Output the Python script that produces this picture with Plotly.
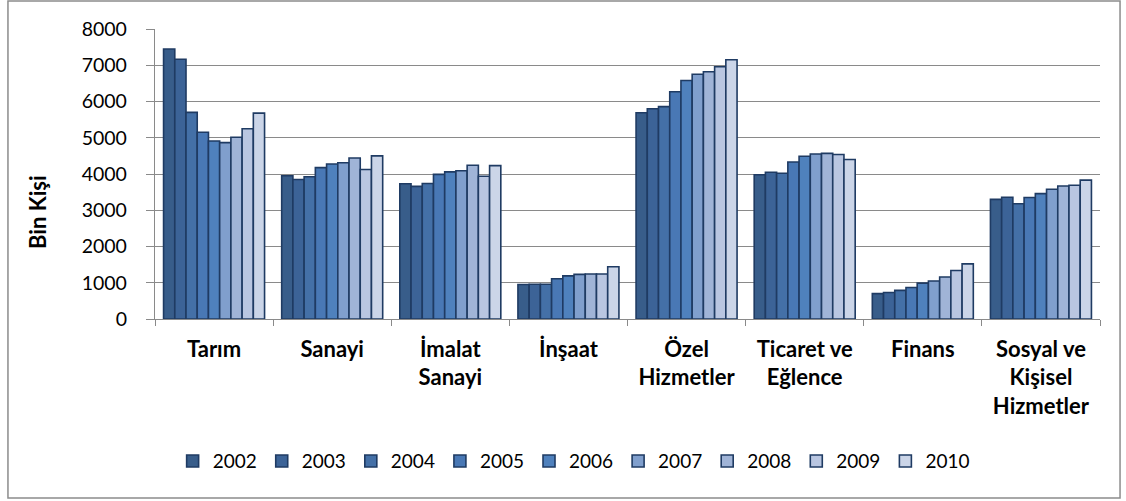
import plotly.graph_objects as go

categories = ["Tarım", "Sanayi", "İmalat<br>Sanayi", "İnşaat", "Özel<br>Hizmetler",
              "Ticaret ve<br>Eğlence", "Finans", "Sosyal ve<br>Kişisel<br>Hizmetler"]
years = ["2002", "2003", "2004", "2005", "2006", "2007", "2008", "2009", "2010"]

# values per category, one entry per year (2002..2010), in thousand persons
tarim   = [7450, 7165, 5700, 5150, 4910, 4865, 5015, 5250, 5680]
sanayi  = [3950, 3850, 3925, 4175, 4275, 4310, 4440, 4125, 4500]
imalat  = [3730, 3660, 3740, 3990, 4060, 4090, 4240, 3940, 4230]
insaat  = [950, 960, 960, 1110, 1190, 1230, 1240, 1240, 1440]
ozel    = [5690, 5800, 5860, 6270, 6580, 6750, 6820, 6960, 7150]
ticaret = [3980, 4050, 4020, 4330, 4490, 4550, 4570, 4540, 4400]
finans  = [700, 730, 790, 870, 990, 1050, 1160, 1340, 1520]
sosyal  = [3300, 3360, 3180, 3350, 3460, 3580, 3670, 3690, 3830]

by_category = [tarim, sanayi, imalat, insaat, ozel, ticaret, finans, sosyal]

colors = ["#385d8a", "#3c6397", "#4470a7", "#4978b5", "#4f81bd",
          "#809fcd", "#a0b4d7", "#b9c6e1", "#cbd5e8"]

font_family = "Lato, 'Open Sans', sans-serif"

fig = go.Figure()
for i, yr in enumerate(years):
    fig.add_trace(go.Bar(
        name=yr,
        x=categories,
        y=[vals[i] for vals in by_category],
        marker=dict(color=colors[i], line=dict(color="#1f3b63", width=1.6)),
    ))

fig.update_layout(
    width=1126, height=501,
    margin=dict(l=155, r=26, t=29, b=182),
    paper_bgcolor="white", plot_bgcolor="white",
    barmode="group", bargap=0.145, bargroupgap=0,
    font=dict(family=font_family, color="black", size=19),
    showlegend=True,
    legend=dict(orientation="h", x=0.443, xanchor="center", y=-0.49, yanchor="middle",
                font=dict(size=19, family=font_family), itemwidth=30,
                traceorder="normal"),
    shapes=[dict(type="rect", xref="paper", yref="paper",
                 x0=-0.1556, x1=1.0212, y0=-0.617, y1=1.0966,
                 line=dict(color="#8c8c8c", width=1.5), fillcolor="rgba(0,0,0,0)",
                 layer="below")],
    annotations=[dict(text="<b>Bin Kişi</b>", xref="paper", yref="paper",
                      x=-0.1238, y=0.369, xanchor="center", yanchor="middle",
                      textangle=-90, showarrow=False,
                      font=dict(size=22, family=font_family, color="black"))],
)

fig.update_yaxes(
    range=[0, 8000], dtick=1000, showgrid=True, gridcolor="#8a8a8a", gridwidth=1.3,
    showline=True, linecolor="#8a8a8a", linewidth=1.3,
    ticks="outside", ticklen=8, tickcolor="#8a8a8a", ticklabelstandoff=15,
    tickfont=dict(size=19.5, family=font_family),
    zeroline=False,
)
fig.update_xaxes(
    showline=True, linecolor="#8a8a8a", linewidth=1.3,
    ticks="outside", ticklen=6, tickcolor="#8a8a8a", tickson="boundaries",
    tickfont=dict(size=22, family=font_family, weight="bold"),
    ticklabelstandoff=10,
)

fig.write_html("out.html", config={"displayModeBar": False},
               post_script="document.body.style.margin='0';")
